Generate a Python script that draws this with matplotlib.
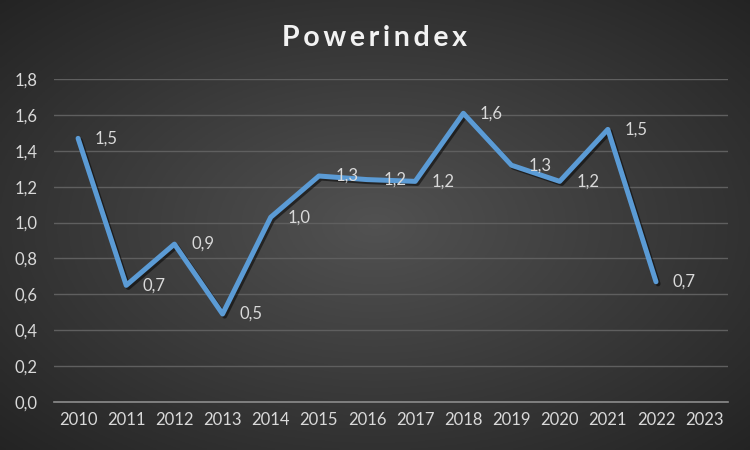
import matplotlib
matplotlib.use("Agg")
import matplotlib.pyplot as plt
import matplotlib.patheffects as pe
import numpy as np

years = ["2010", "2011", "2012", "2013", "2014", "2015", "2016",
         "2017", "2018", "2019", "2020", "2021", "2022", "2023"]
values = [1.47, 0.65, 0.88, 0.49, 1.03, 1.26, 1.24, 1.23, 1.61, 1.32, 1.23, 1.52, 0.67]
yticks = [0.0, 0.2, 0.4, 0.6, 0.8, 1.0, 1.2, 1.4, 1.6, 1.8]

plt.rcParams["font.family"] = ["Lato", "DejaVu Sans"]

fig = plt.figure(figsize=(7.5, 4.5), dpi=100)

# radial gradient background
bg = fig.add_axes([0, 0, 1, 1], zorder=-10)
gx, gy = np.meshgrid(np.linspace(-1, 1, 300), np.linspace(-1, 1, 180))
r = np.sqrt(gx ** 2 + gy ** 2) / np.sqrt(2)
shade = 0.32 - 0.18 * r
bg.imshow(np.dstack([shade, shade, shade]), aspect="auto", extent=[0, 1, 0, 1])
bg.axis("off")

ax = fig.add_axes([0.072, 0.107, 0.899, 0.717])
ax.patch.set_alpha(0)
x = np.arange(len(values))
ax.plot(x, values, color="#5B9BD5", lw=3.6, solid_joinstyle="round",
        solid_capstyle="round",
        path_effects=[pe.SimpleLineShadow(offset=(1.5, -1.5), alpha=0.5), pe.Normal()])

for xi, v in zip(x, values):
    ax.annotate(f"{v:.1f}".replace(".", ","), (xi, v), xytext=(12, 0),
                textcoords="offset points", va="center", ha="left",
                color="#d9d9d9", fontsize=12)

ax.set_xlim(-0.5, len(years) - 0.5)
ax.set_ylim(0, 1.8)
ax.set_xticks(range(len(years)))
ax.set_xticklabels(years)
ax.set_yticks(yticks)
ax.set_yticklabels([f"{t:.1f}".replace(".", ",") for t in yticks])
ax.tick_params(colors="#d9d9d9", labelsize=12, length=0, pad=7)
ax.tick_params(axis="y", pad=12)
ax.grid(axis="y", color="#5f5f5f", lw=1)
ax.set_axisbelow(True)
for s in ["top", "right", "left"]:
    ax.spines[s].set_visible(False)
ax.spines["bottom"].set_color("#8c8c8c")
ax.spines["bottom"].set_linewidth(1.2)

fig.text(0.5, 0.915, "\u2009".join("Powerindex"), ha="center", va="center",
         color="#f2f2f2", fontsize=20.5, fontweight="bold")

fig.savefig("out.png", dpi=100)
